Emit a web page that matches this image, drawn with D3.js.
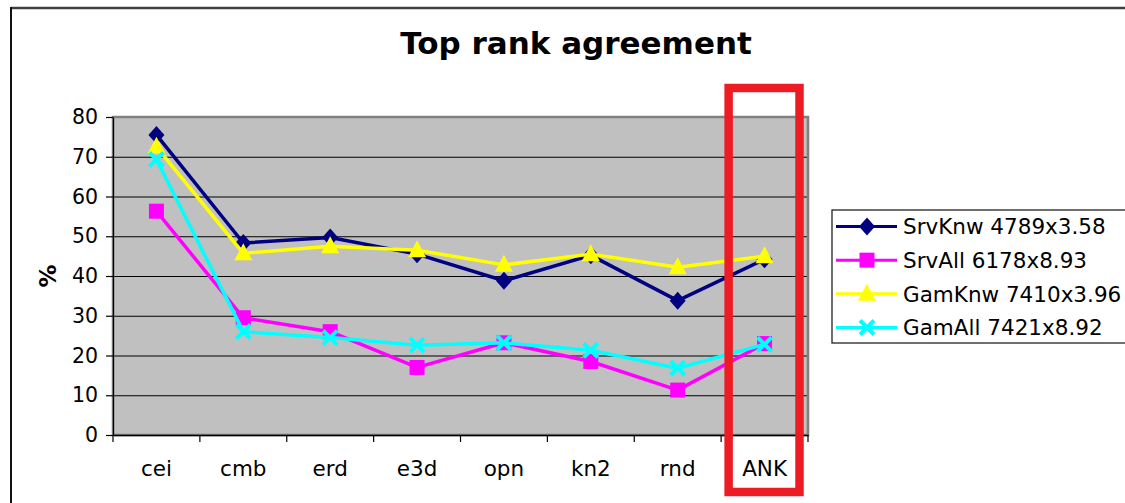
<!DOCTYPE html>
<html>
<head>
<meta charset="utf-8">
<script src="https://cdn.jsdelivr.net/npm/d3@7"></script>
<style>
  html, body { margin: 0; padding: 0; background: #fff; }
  svg { display: block; font-family: "DejaVu Sans", Verdana, sans-serif; }
</style>
</head>
<body>
<svg id="chart" width="1125" height="503"></svg>
<script>
// Categories along the x axis
const categories = ["cei", "cmb", "erd", "e3d", "opn", "kn2", "rnd", "ANK"];

// Series values (%)
const srvKnw = [75.5, 48.3, 49.7, 45.5, 38.8, 45.2, 33.8, 44.2];
const srvAll = [56.3, 29.5, 26.0, 17.0, 23.2, 18.5, 11.3, 23.0];
const gamKnw = [72.5, 45.7, 47.5, 46.5, 42.8, 45.5, 42.2, 45.0];
const gamAll = [69.3, 26.0, 24.5, 22.6, 23.2, 21.3, 16.8, 22.8];

// Legend labels and y tick values
const seriesNames = ["SrvKnw 4789x3.58", "SrvAll 6178x8.93", "GamKnw 7410x3.96", "GamAll 7421x8.92"];
const yTicks = [0, 10, 20, 30, 40, 50, 60, 70, 80];
const highlighted = "ANK";

const series = [
  { name: seriesNames[0], values: srvKnw, color: "#000080", marker: "diamond" },
  { name: seriesNames[1], values: srvAll, color: "#FF00FF", marker: "square" },
  { name: seriesNames[2], values: gamKnw, color: "#FFFF00", marker: "triangle" },
  { name: seriesNames[3], values: gamAll, color: "#00FFFF", marker: "cross" }
];

const svg = d3.select("#chart");
const plot = { left: 113, right: 808, top: 117, bottom: 435 };

const x = d3.scaleBand().domain(categories).range([plot.left, plot.right]);
const y = d3.scaleLinear().domain([0, 80]).range([plot.bottom, plot.top]);

// Chart frame (top and left edges)
svg.append("line").attr("x1", 11).attr("x2", 1125).attr("y1", 8).attr("y2", 8)
  .attr("stroke", "#404040").attr("stroke-width", 2.5);
svg.append("line").attr("x1", 11).attr("x2", 11).attr("y1", 7).attr("y2", 503)
  .attr("stroke", "#111").attr("stroke-width", 2);

// Title
svg.append("text").attr("x", 576).attr("y", 54).attr("text-anchor", "middle")
  .attr("font-weight", "bold").attr("font-size", 31).attr("fill", "#000")
  .text("Top rank agreement");

// Plot background
svg.append("rect").attr("x", plot.left).attr("y", plot.top)
  .attr("width", plot.right - plot.left).attr("height", plot.bottom - plot.top)
  .attr("fill", "#C0C0C0");

// Horizontal gridlines
svg.append("g")
  .attr("transform", `translate(${plot.left},0)`)
  .call(d3.axisLeft(y).tickValues(yTicks).tickSize(-(plot.right - plot.left)).tickFormat(""))
  .call(g => g.select(".domain").remove())
  .call(g => g.selectAll("line").attr("stroke", "#000").attr("stroke-width", 1.2));

// Plot border
svg.append("rect").attr("x", plot.left).attr("y", plot.top)
  .attr("width", plot.right - plot.left).attr("height", plot.bottom - plot.top)
  .attr("fill", "none").attr("stroke", "#808080").attr("stroke-width", 2.5);

// Y axis
const yAxis = svg.append("g")
  .attr("transform", `translate(${plot.left},0)`)
  .call(d3.axisLeft(y).tickValues(yTicks).tickSize(7).tickPadding(8).tickSizeOuter(0));
yAxis.select(".domain").attr("stroke", "#000").attr("stroke-width", 1.2);
yAxis.selectAll("line").attr("stroke", "#000").attr("stroke-width", 1.2);
yAxis.selectAll("text").attr("font-size", 20.5).attr("fill", "#000")
  .attr("font-family", "DejaVu Sans, Verdana, sans-serif");

// X axis with ticks at category boundaries
const xAxis = svg.append("g")
  .attr("transform", `translate(0,${plot.bottom})`)
  .call(d3.axisBottom(x).tickSize(0).tickPadding(26));
xAxis.select(".domain").attr("stroke", "#000").attr("stroke-width", 1.5);
xAxis.selectAll("text").attr("font-size", 21.5).attr("fill", "#000")
  .attr("font-family", "DejaVu Sans, Verdana, sans-serif");
const bounds = categories.map(c => x(c)).concat([x(categories[categories.length - 1]) + x.bandwidth()]);
xAxis.selectAll("line.bound").data(bounds).join("line").attr("class", "bound")
  .attr("x1", d => d).attr("x2", d => d).attr("y1", 0).attr("y2", 7)
  .attr("stroke", "#000").attr("stroke-width", 1.2);

// Y axis title
svg.append("text").attr("transform", "translate(56,276) rotate(-90)")
  .attr("text-anchor", "middle").attr("font-weight", "bold").attr("font-size", 23)
  .text("%");

// Marker shapes
function drawMarker(g, type, color, cx, cy) {
  if (type === "diamond") {
    g.append("path").attr("d", `M${cx},${cy - 9}L${cx + 8},${cy}L${cx},${cy + 9}L${cx - 8},${cy}Z`)
      .attr("fill", color);
  } else if (type === "square") {
    g.append("rect").attr("x", cx - 7.5).attr("y", cy - 7.5).attr("width", 15).attr("height", 15)
      .attr("fill", color);
  } else if (type === "triangle") {
    g.append("path").attr("d", `M${cx},${cy - 10}L${cx + 9},${cy + 7}L${cx - 9},${cy + 7}Z`)
      .attr("fill", color);
  } else if (type === "cross") {
    g.append("path").attr("d", `M${cx - 7},${cy - 7}L${cx + 7},${cy + 7}M${cx + 7},${cy - 7}L${cx - 7},${cy + 7}`)
      .attr("stroke", color).attr("stroke-width", 4).attr("fill", "none");
  }
}

const line = d3.line()
  .x((d, i) => x(categories[i]) + x.bandwidth() / 2)
  .y(d => y(d));

// Series lines and markers
series.forEach(s => {
  const g = svg.append("g");
  g.append("path").datum(s.values).attr("d", line)
    .attr("fill", "none").attr("stroke", s.color).attr("stroke-width", 3.5)
    .attr("stroke-linejoin", "round");
  s.values.forEach((v, i) => {
    drawMarker(g, s.marker, s.color, x(categories[i]) + x.bandwidth() / 2, y(v));
  });
});

// Highlight box around the ANK category
const hx = x(highlighted);
svg.append("rect")
  .attr("x", hx + 7.5).attr("y", 88)
  .attr("width", x.bandwidth() - 16).attr("height", 404)
  .attr("fill", "none").attr("stroke", "#ED1C24").attr("stroke-width", 8.5);

// Legend
const legend = svg.append("g");
legend.append("rect").attr("x", 832).attr("y", 210).attr("width", 300).attr("height", 133)
  .attr("fill", "#fff").attr("stroke", "#222").attr("stroke-width", 1.3);
const rowY = d3.scalePoint().domain(seriesNames).range([226.5, 327.5]);
series.forEach(s => {
  const yy = rowY(s.name);
  legend.append("line").attr("x1", 836).attr("x2", 897).attr("y1", yy).attr("y2", yy)
    .attr("stroke", s.color).attr("stroke-width", 3);
  drawMarker(legend, s.marker, s.color, 867, yy);
  legend.append("text").attr("x", 903).attr("y", yy).attr("dy", "0.36em")
    .attr("font-size", 21.5).attr("fill", "#000").text(s.name);
});
</script>
</body>
</html>
